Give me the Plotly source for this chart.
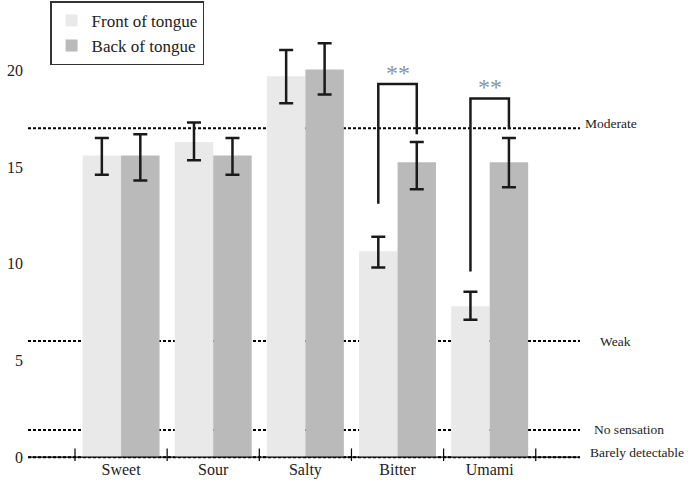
import plotly.graph_objects as go

# data
tastes = ["Sweet", "Sour", "Salty", "Bitter", "Umami"]
front_mean = [15.6, 16.3, 19.7, 10.65, 7.8]
front_err_up = [0.9, 1.0, 1.35, 0.75, 0.75]
front_err_down = [1.0, 0.95, 1.4, 0.85, 0.7]
back_mean = [15.6, 15.6, 20.05, 15.25, 15.25]
back_err_up = [1.1, 0.9, 1.35, 1.05, 1.25]
back_err_down = [1.3, 1.0, 1.3, 1.4, 1.3]

# reference levels (dashed lines) and their labels
level_values = [17, 6, 1.4, 0]
level_labels = ["Moderate", "Weak", "No sensation", "Barely detectable"]
level_label_x = [1.005, 1.033, 1.022, 1.014]
level_label_dy = [5, 0, 1, 5]

# significance brackets
sig_tastes = ["Bitter", "Umami"]
sig_top = [19.3, 18.55]
sig_left_bottom = [13.1, 9.6]
sig_right_bottom = [16.7, 16.95]
sig_text_y = [19.85, 19.15]

BARGAP = 0.165
offset = (1 - BARGAP) / 4
pos = list(range(len(tastes)))

fig = go.Figure()

fig.add_trace(go.Bar(
    x=pos, y=front_mean, name="Front of tongue",
    marker=dict(color="#e9e9e9", line=dict(width=0)),
    error_y=dict(type="data", symmetric=False, array=front_err_up,
                 arrayminus=front_err_down, color="#1a1a1a", thickness=2.5, width=7),
))
fig.add_trace(go.Bar(
    x=pos, y=back_mean, name="Back of tongue",
    marker=dict(color="#bababa", line=dict(width=0)),
    error_y=dict(type="data", symmetric=False, array=back_err_up,
                 arrayminus=back_err_down, color="#1a1a1a", thickness=2.5, width=7),
))

# dashed reference lines behind bars
for val, lab, lx, dy in zip(level_values, level_labels, level_label_x, level_label_dy):
    fig.add_shape(type="line", xref="paper", x0=0, x1=1, yref="y", y0=val, y1=val,
                  line=dict(color="black", width=2, dash="3px,2px"), layer="below")
    fig.add_annotation(xref="paper", x=lx, yref="y", y=val, yshift=dy, text=lab,
                       showarrow=False, xanchor="left",
                       font=dict(family="Liberation Serif", size=13.5, color="#222"))

# axis line at zero, with crossing ticks on category boundaries
fig.add_shape(type="line", xref="paper", x0=0, x1=1, yref="y", y0=0, y1=0,
              line=dict(color="black", width=1.2))
for i in range(len(tastes) + 1):
    fig.add_shape(type="line", xref="x", x0=i - 0.5, x1=i - 0.5, yref="y", y0=-0.45, y1=0.45,
                  line=dict(color="black", width=1.2))

# significance brackets
for t, top, lb, rb, ty in zip(sig_tastes, sig_top, sig_left_bottom, sig_right_bottom, sig_text_y):
    i = tastes.index(t)
    xl, xr = i - offset, i + offset
    fig.add_trace(go.Scatter(
        x=[xl, xl, xr, xr], y=[lb, top, top, rb], mode="lines",
        line=dict(color="#1a1a1a", width=2.5), showlegend=False, hoverinfo="skip",
    ))
    fig.add_annotation(x=i, y=ty, xref="x", yref="y", text="**", showarrow=False,
                       font=dict(family="Liberation Serif", size=24, color="#8a96a0"))

fig.update_layout(
    width=688, height=483,
    barmode="group", bargap=BARGAP, bargroupgap=0,
    plot_bgcolor="white", paper_bgcolor="white",
    margin=dict(l=28, r=108, t=22, b=22, autoexpand=False),
    font=dict(family="Liberation Serif", size=16, color="#222"),
    legend=dict(x=0.04, y=1.047, xanchor="left", yanchor="top",
                bordercolor="#333", borderwidth=1.5, bgcolor="white",
                font=dict(size=17), itemsizing="constant", tracegroupgap=0),
    xaxis=dict(range=[-1.01, 4.98], tickvals=pos, ticktext=tastes,
               showgrid=False, zeroline=False, showline=False, ticks="",
               ticklabelstandoff=-3, tickfont=dict(size=16), automargin=False),
    yaxis=dict(range=[-0.2, 22.5], tickvals=[0, 5, 10, 15, 20], showgrid=False,
               zeroline=False, showline=False, ticks="", ticklabelstandoff=4,
               tickfont=dict(size=16), automargin=False),
)

fig.write_html("out.html", config={"displayModeBar": False},
               post_script="document.body.style.margin='0px';")
